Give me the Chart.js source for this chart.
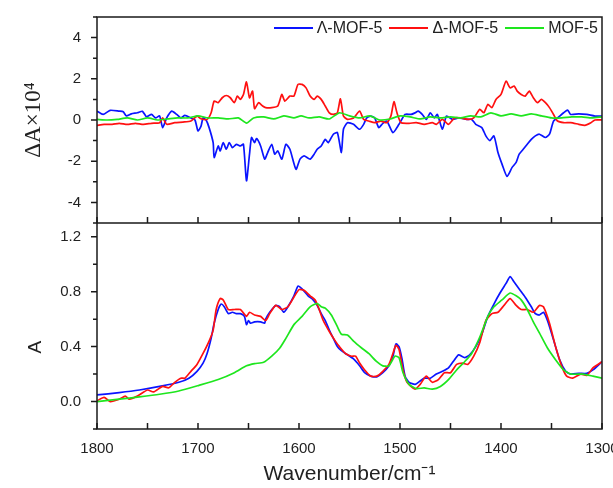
<!DOCTYPE html>
<html>
<head>
<meta charset="utf-8">
<script src="https://cdn.jsdelivr.net/npm/chart.js@4"></script>
<style>
  html, body { margin: 0; padding: 0; background: #fff; overflow: hidden; }
  #wrap { position: relative; width: 613px; height: 488px; }
  #legend { position: absolute; top: 19px; right: 15px; display: flex; align-items: center;
            font: 16px "Liberation Sans", Arial, sans-serif; color: #222; }
  #legend .item { display: flex; align-items: center; margin-left: 7px; }
  #legend .swatch { width: 39px; height: 2px; margin-right: 4px; }
</style>
</head>
<body>
<div id="wrap">
  <canvas id="chart" width="613" height="488"></canvas>
  <div id="legend"></div>
</div>
<script>
// series names and colours
const seriesNames = ['\u039B-MOF-5', '\u0394-MOF-5', 'MOF-5'];
const seriesColors = ['#0a14ff', '#ff1010', '#1ee61e'];

// upper panel: VCD, ΔA x 10^4
const vcdLambdaX = [1800,1794,1787,1778,1774,1771,1766,1760,1755,1751,1746,1742,1738,1735,1731,1726,1721,1717,1713,1707,1703,1700,1697,1695,1692,1689,1685,1684,1680,1678,1675,1672,1669,1666,1662,1658,1655,1652,1649,1647,1644,1642,1638,1634,1631,1627,1624,1621,1617,1613,1609,1603,1599,1595,1589,1585,1582,1578,1574,1571,1566,1562,1558,1556,1552,1546,1540,1536,1533,1529,1525,1521,1517,1513,1507,1501,1495,1489,1485,1482,1478,1474,1470,1466,1463,1458,1454,1448,1442,1434,1429,1425,1419,1415,1411,1407,1403,1399,1394,1389,1385,1382,1378,1374,1370,1366,1362,1356,1352,1348,1344,1338,1334,1331,1323,1315,1307,1300];
const vcdLambdaY = [0.43,0.27,0.47,0.43,0.40,0.20,0.30,0.35,0.42,0.16,0.27,0.10,0.20,-0.37,0.10,0.43,0.27,0.10,0.22,0.10,0.00,-0.53,-0.30,0.10,0.00,-0.37,-1.10,-1.82,-1.26,-1.50,-1.10,-1.42,-1.10,-1.34,-1.18,-1.26,-1.18,-2.95,-1.66,-0.85,-1.10,-0.90,-1.26,-1.90,-1.58,-1.18,-1.66,-1.50,-1.90,-1.18,-1.42,-2.39,-1.90,-1.74,-1.90,-1.66,-1.42,-1.26,-0.94,-1.10,-0.69,-0.61,-1.58,-0.45,-0.13,-0.21,-0.45,-0.21,0.10,0.19,0.10,-0.37,-0.16,-0.05,-0.61,-0.21,0.27,0.27,0.35,0.43,0.27,0.03,0.35,0.10,0.27,-0.45,0.19,0.03,0.10,0.03,0.03,-0.21,-0.37,-0.77,-1.00,-0.77,-1.58,-2.14,-2.74,-2.30,-2.06,-1.66,-1.42,-1.18,-0.94,-0.77,-0.69,-0.85,-0.69,-0.05,0.10,0.35,0.48,0.27,0.30,0.27,0.19,0.19];

const vcdDeltaX = [1800,1793,1785,1778,1770,1762,1754,1746,1738,1735,1731,1723,1715,1707,1701,1697,1691,1687,1684,1680,1676,1672,1668,1664,1661,1658,1655,1652,1649,1646,1644,1640,1636,1633,1627,1621,1617,1614,1609,1605,1601,1597,1593,1589,1585,1582,1578,1574,1570,1566,1562,1559,1556,1552,1546,1540,1536,1531,1525,1519,1513,1509,1506,1503,1499,1491,1484,1476,1468,1464,1458,1452,1446,1440,1432,1427,1421,1417,1413,1409,1405,1400,1395,1391,1387,1384,1380,1376,1372,1368,1364,1360,1356,1352,1348,1344,1338,1331,1323,1317,1311,1307,1300];
const vcdDeltaY = [-0.26,-0.21,-0.21,-0.16,-0.21,-0.16,-0.21,-0.16,-0.13,0.10,-0.21,-0.13,-0.10,-0.05,0.19,0.06,0.03,0.35,0.92,0.84,1.08,1.19,1.08,0.84,1.16,1.00,1.24,1.85,1.08,1.40,0.55,0.84,0.68,0.60,0.60,0.68,1.24,0.92,1.16,1.16,1.73,1.73,1.56,1.16,1.00,1.16,1.00,0.68,0.35,0.27,0.35,1.03,0.19,0.03,0.10,0.43,0.03,-0.05,-0.13,-0.05,-0.13,0.19,0.89,0.35,-0.13,-0.16,-0.13,-0.21,-0.13,-0.21,0.03,-0.21,0.10,0.10,0.03,0.10,0.52,0.35,0.76,0.60,1.00,1.24,1.89,1.56,1.65,1.40,1.24,1.16,1.40,1.08,0.84,1.00,0.84,0.60,0.27,-0.05,-0.13,-0.13,-0.21,-0.26,-0.13,0.00,0.00];

const vcdMofX = [1800,1790,1780,1770,1760,1750,1740,1730,1720,1710,1700,1690,1680,1670,1660,1652,1645,1635,1625,1615,1605,1598,1590,1580,1570,1560,1550,1540,1530,1520,1510,1500,1490,1480,1470,1460,1450,1440,1430,1420,1410,1400,1390,1380,1370,1360,1350,1340,1330,1320,1310,1300];
const vcdMofY = [0.03,0.00,0.03,0.10,0.00,0.10,0.00,0.05,0.10,0.10,0.20,0.10,0.10,0.05,0.10,-0.15,0.10,0.15,0.05,0.20,0.10,0.20,0.10,0.15,0.05,0.35,0.20,0.10,0.20,0.00,0.05,0.20,0.15,0.05,0.15,0.10,0.15,0.10,0.20,0.15,0.35,0.20,0.30,0.20,0.30,0.20,0.10,0.10,0.15,0.15,0.10,0.15];

// lower panel: IR absorbance A
const irLambdaX = [1800,1778,1758,1738,1719,1709,1701,1695,1691,1687,1684,1680,1677,1674,1670,1666,1662,1658,1654,1652,1650,1648,1644,1638,1634,1633,1629,1623,1619,1615,1611,1605,1601,1597,1591,1586,1582,1578,1574,1570,1566,1562,1558,1554,1546,1540,1535,1529,1523,1517,1511,1507,1504,1501,1498,1495,1491,1485,1480,1476,1470,1464,1458,1452,1446,1442,1436,1431,1425,1419,1413,1407,1401,1395,1391,1387,1382,1376,1370,1366,1362,1358,1354,1348,1342,1336,1331,1323,1315,1309,1300];
const irLambdaY = [0.048,0.065,0.084,0.11,0.14,0.17,0.22,0.28,0.35,0.46,0.57,0.67,0.71,0.69,0.64,0.65,0.64,0.64,0.62,0.56,0.59,0.57,0.58,0.58,0.57,0.60,0.65,0.70,0.69,0.65,0.69,0.77,0.84,0.82,0.77,0.74,0.70,0.64,0.59,0.52,0.46,0.40,0.37,0.35,0.31,0.26,0.21,0.185,0.18,0.21,0.26,0.33,0.42,0.40,0.31,0.185,0.14,0.125,0.15,0.17,0.17,0.20,0.22,0.245,0.305,0.34,0.32,0.34,0.40,0.49,0.62,0.71,0.79,0.86,0.91,0.87,0.82,0.76,0.69,0.64,0.63,0.65,0.59,0.45,0.305,0.22,0.20,0.205,0.205,0.23,0.29];

const irDeltaX = [1800,1793,1787,1778,1772,1768,1760,1750,1744,1735,1729,1723,1717,1713,1707,1701,1695,1689,1685,1682,1678,1675,1670,1664,1658,1652,1649,1644,1638,1633,1629,1623,1617,1611,1605,1600,1595,1589,1584,1580,1576,1570,1564,1560,1554,1548,1544,1540,1535,1529,1523,1517,1511,1507,1504,1501,1497,1493,1485,1480,1474,1468,1462,1456,1450,1444,1438,1433,1427,1421,1415,1409,1403,1397,1391,1385,1380,1374,1368,1362,1358,1352,1346,1340,1335,1329,1321,1315,1309,1300];
const irDeltaY = [0.005,0.03,0.0,0.017,0.04,0.017,0.04,0.084,0.07,0.11,0.10,0.14,0.17,0.17,0.22,0.27,0.35,0.44,0.52,0.67,0.75,0.74,0.67,0.67,0.67,0.62,0.65,0.63,0.62,0.59,0.64,0.70,0.67,0.69,0.76,0.815,0.81,0.77,0.74,0.67,0.59,0.51,0.44,0.40,0.35,0.33,0.33,0.28,0.23,0.185,0.185,0.22,0.27,0.35,0.41,0.38,0.23,0.14,0.09,0.125,0.185,0.14,0.16,0.21,0.21,0.27,0.28,0.27,0.33,0.43,0.59,0.64,0.65,0.70,0.75,0.70,0.67,0.67,0.65,0.70,0.69,0.57,0.40,0.26,0.185,0.17,0.20,0.19,0.245,0.29];

const irMofX = [1800,1778,1758,1738,1719,1699,1680,1664,1652,1644,1635,1627,1619,1613,1605,1597,1589,1582,1578,1574,1568,1562,1558,1552,1546,1538,1531,1523,1517,1511,1505,1501,1497,1491,1484,1476,1468,1460,1452,1444,1436,1429,1421,1413,1407,1399,1391,1385,1380,1374,1368,1362,1354,1346,1338,1331,1319,1309,1300];
const irMofY = [0.0,0.017,0.034,0.053,0.077,0.118,0.16,0.21,0.26,0.276,0.286,0.33,0.39,0.46,0.56,0.62,0.69,0.714,0.69,0.68,0.63,0.545,0.49,0.485,0.44,0.39,0.35,0.29,0.26,0.26,0.33,0.32,0.21,0.125,0.094,0.099,0.09,0.11,0.16,0.23,0.29,0.35,0.47,0.62,0.69,0.74,0.79,0.77,0.74,0.67,0.58,0.50,0.39,0.305,0.23,0.20,0.20,0.185,0.17];

// tick values (labels only on some of them)
const xTickValues = [1800,1750,1700,1650,1600,1550,1500,1450,1400,1350,1300];
const vcdTickValues = [-5,-4,-3,-2,-1,0,1,2,3,4,5];
const irTickValues = [-0.2,0,0.2,0.4,0.6,0.8,1.0,1.2];

function pts(xs, ys) {
  return xs.map((x, i) => ({x: x, y: ys[i]}));
}

const sans = '"Liberation Sans", Arial, sans-serif';

// html legend for the upper panel
const legendEl = document.getElementById('legend');
seriesNames.forEach((name, i) => {
  const item = document.createElement('div');
  item.className = 'item';
  const sw = document.createElement('span');
  sw.className = 'swatch';
  sw.style.background = seriesColors[i];
  const tx = document.createElement('span');
  tx.textContent = name;
  item.appendChild(sw);
  item.appendChild(tx);
  legendEl.appendChild(item);
});

// frame and tick marks (x ticks inside, y ticks outside)
const frame = {
  id: 'frame',
  afterDatasetsDraw(chart) {
    const {ctx, chartArea: a, scales} = chart;
    const x = scales.x, yV = scales.yV, yA = scales.yA;
    ctx.save();
    ctx.strokeStyle = '#1a1a1a';
    ctx.lineWidth = 1.5;
    ctx.strokeRect(a.left, a.top, a.right - a.left, a.bottom - a.top);
    ctx.beginPath();
    ctx.moveTo(a.left, yV.bottom);
    ctx.lineTo(a.right, yV.bottom);
    xTickValues.forEach(v => {
      const px = x.getPixelForValue(v);
      [yV.bottom, yA.bottom].forEach(b => {
        ctx.moveTo(px, b);
        ctx.lineTo(px, b - 6);
      });
    });
    vcdTickValues.forEach(v => {
      const py = yV.getPixelForValue(v);
      const len = v % 2 === 0 ? 6 : 4;
      ctx.moveTo(a.left, py);
      ctx.lineTo(a.left - len, py);
    });
    irTickValues.forEach(v => {
      const py = yA.getPixelForValue(v);
      const len = Math.round(v * 10) % 4 === 0 ? 6 : 4;
      ctx.moveTo(a.left, py);
      ctx.lineTo(a.left - len, py);
    });
    ctx.stroke();
    ctx.restore();
  }
};

function line(label, data, color, axis, order) {
  return {
    label: label,
    data: data,
    yAxisID: axis,
    borderColor: color,
    borderWidth: 1.7,
    pointRadius: 0,
    tension: 0.2,
    fill: false,
    order: order
  };
}

const ctx = document.getElementById('chart').getContext('2d');

new Chart(ctx, {
  type: 'line',
  data: {
    datasets: [
      line(seriesNames[0], pts(vcdLambdaX, vcdLambdaY), seriesColors[0], 'yV', 3),
      line(seriesNames[1], pts(vcdDeltaX, vcdDeltaY), seriesColors[1], 'yV', 2),
      line(seriesNames[2], pts(vcdMofX, vcdMofY), seriesColors[2], 'yV', 1),
      line(seriesNames[0], pts(irLambdaX, irLambdaY), seriesColors[0], 'yA', 3),
      line(seriesNames[1], pts(irDeltaX, irDeltaY), seriesColors[1], 'yA', 2),
      line(seriesNames[2], pts(irMofX, irMofY), seriesColors[2], 'yA', 1)
    ]
  },
  options: {
    responsive: false,
    animation: false,
    layout: { padding: { top: 14, right: 11, left: 0, bottom: 0 } },
    plugins: { legend: { display: false }, tooltip: { enabled: false } },
    scales: {
      x: {
        type: 'linear',
        reverse: true,
        min: 1300,
        max: 1800,
        grid: { display: false },
        border: { display: false },
        afterBuildTicks: s => { s.ticks = [1800, 1700, 1600, 1500, 1400, 1300].map(v => ({value: v})); },
        ticks: { autoSkip: false, maxRotation: 0, padding: 3,
                 color: '#222', font: { family: sans, size: 15 },
                 callback: v => String(v) },
        title: { display: true, text: 'Wavenumber/cm\u207B\u00B9', color: '#222',
                 font: { family: sans, size: 21 }, padding: { top: 4, bottom: 1 } },
        afterFit: s => { s.height = 59; s.paddingLeft = 0; s.paddingRight = 0; }
      },
      yA: {
        type: 'linear',
        position: 'left',
        stack: 'panels',
        stackWeight: 1,
        min: -0.2,
        max: 1.3,
        grid: { display: false },
        border: { display: false },
        afterBuildTicks: s => { s.ticks = [0, 0.4, 0.8, 1.2].map(v => ({value: v})); },
        ticks: {
          autoSkip: false, padding: 8, color: '#222',
          font: { family: sans, size: 15 },
          callback: v => v.toFixed(1)
        },
        title: { display: true, text: 'A\u00A0\u00A0\u00A0\u00A0\u00A0\u00A0\u00A0\u00A0', color: '#222',
                 font: { family: sans, size: 19 }, padding: { top: 24, bottom: 0 } },
        afterFit: s => { s.width = 97; }
      },
      yV: {
        type: 'linear',
        position: 'left',
        stack: 'panels',
        stackWeight: 1,
        min: -5,
        max: 5,
        grid: { display: false },
        border: { display: false },
        afterBuildTicks: s => { s.ticks = [-4, -2, 0, 2, 4].map(v => ({value: v})); },
        ticks: {
          autoSkip: false, padding: 8, color: '#222',
          font: { family: sans, size: 15 },
          callback: v => String(v)
        },
        title: { display: true, text: '\u0394A\u00D710\u2074', color: '#222',
                 font: { family: '"Liberation Serif", "Times New Roman", serif', size: 23 },
                 padding: { top: 20, bottom: 0 } },
        afterFit: s => { s.width = 97; }
      }
    }
  },
  plugins: [frame]
});
</script>
</body>
</html>
